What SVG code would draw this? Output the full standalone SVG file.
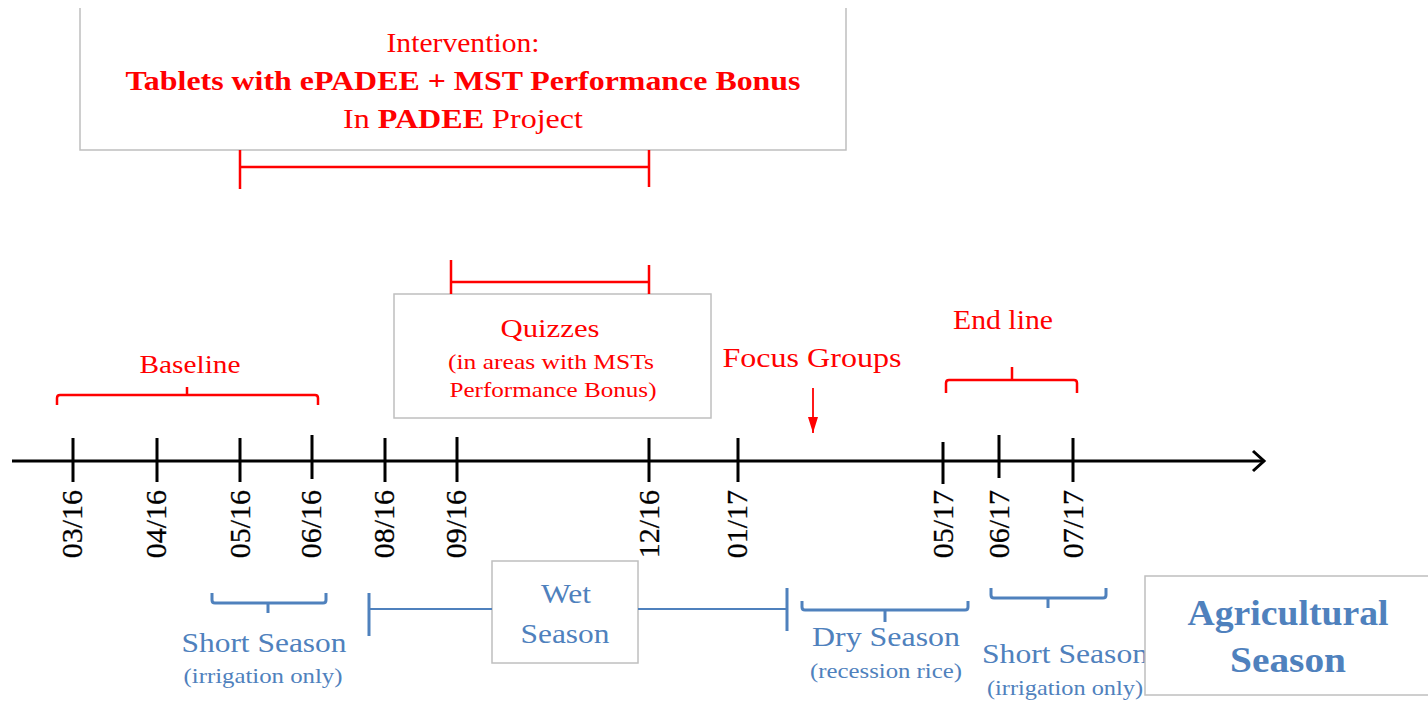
<svg xmlns="http://www.w3.org/2000/svg" width="1428" height="702" viewBox="0 0 1428 702">
<style>
text{font-family:"Liberation Serif","Times New Roman",serif}
.red{fill:#ff0000}
.blue{fill:#4f81bd}
.box{fill:#ffffff;stroke:#bfbfbf;stroke-width:1.5}
.rl{stroke:#ff0000;stroke-width:2.5;fill:none}
.bl{stroke:#4f81bd;stroke-width:3;fill:none}
.bt{stroke:#4f81bd;stroke-width:2;fill:none}
.k{stroke:#000;stroke-width:3;fill:none}
.date{font-size:30px;fill:#000;stroke:#000;stroke-width:0.3}
</style>
<defs>
<marker id="redHead" viewBox="0 0 16 10" refX="16" refY="5" markerWidth="16" markerHeight="10" orient="auto" markerUnits="userSpaceOnUse">
<path d="M0,0 L16,5 L0,10 z" fill="#ff0000"/>
</marker>
</defs>

<g id="intervention">
<path class="box" d="M80,8 V150 H846 V8"/>
<text class="red" x="463" y="52" font-size="28" text-anchor="middle" textLength="153" lengthAdjust="spacingAndGlyphs">Intervention:</text>
<text class="red" x="463" y="90" font-size="27" font-weight="bold" text-anchor="middle" textLength="675" lengthAdjust="spacingAndGlyphs">Tablets with ePADEE + MST Performance Bonus</text>
<text class="red" x="463" y="128" font-size="28" text-anchor="middle" textLength="240" lengthAdjust="spacingAndGlyphs">In <tspan font-weight="bold">PADEE</tspan> Project</text>
</g>

<g id="quizzes">
<rect class="box" x="394" y="294" width="317" height="124"/>
<text class="red" x="550" y="337" font-size="25" text-anchor="middle" textLength="99" lengthAdjust="spacingAndGlyphs">Quizzes</text>
<text class="red" x="551" y="369" font-size="21" text-anchor="middle" textLength="206" lengthAdjust="spacingAndGlyphs">(in areas with MSTs</text>
<text class="red" x="553" y="397" font-size="21" text-anchor="middle" textLength="207" lengthAdjust="spacingAndGlyphs">Performance Bonus)</text>
</g>

<g id="baseline">
<text class="red" x="190" y="373" font-size="26" text-anchor="middle" textLength="101" lengthAdjust="spacingAndGlyphs">Baseline</text>
</g>

<g id="focus-groups">
<text class="red" x="812" y="367" font-size="28" text-anchor="middle" textLength="179" lengthAdjust="spacingAndGlyphs">Focus Groups</text>
</g>

<g id="endline">
<text class="red" x="1003" y="329" font-size="28" text-anchor="middle" textLength="100" lengthAdjust="spacingAndGlyphs">End line</text>
</g>

<g id="wet-season">
<rect class="box" x="492" y="561" width="146" height="102"/>
<text class="blue" x="566" y="603" font-size="27" text-anchor="middle" textLength="50" lengthAdjust="spacingAndGlyphs">Wet</text>
<text class="blue" x="565" y="643" font-size="27" text-anchor="middle" textLength="89" lengthAdjust="spacingAndGlyphs">Season</text>
</g>

<g id="short-season-1">
<text class="blue" x="264" y="652" font-size="27" text-anchor="middle" textLength="165" lengthAdjust="spacingAndGlyphs">Short Season</text>
<text class="blue" x="263" y="683" font-size="21" text-anchor="middle" textLength="159" lengthAdjust="spacingAndGlyphs">(irrigation  only)</text>
</g>

<g id="dry-season">
<text class="blue" x="886" y="646" font-size="27" text-anchor="middle" textLength="148" lengthAdjust="spacingAndGlyphs">Dry  Season</text>
<text class="blue" x="886" y="678" font-size="21" text-anchor="middle" textLength="152" lengthAdjust="spacingAndGlyphs">(recession rice)</text>
</g>

<g id="short-season-2">
<text class="blue" x="1065" y="663" font-size="27" text-anchor="middle" textLength="166" lengthAdjust="spacingAndGlyphs">Short Season</text>
<text class="blue" x="1065" y="695" font-size="21" text-anchor="middle" textLength="156" lengthAdjust="spacingAndGlyphs">(irrigation  only)</text>
</g>

<g id="agricultural-season">
<rect class="box" x="1145" y="576" width="290" height="119"/>
<text class="blue" x="1288" y="625" font-size="36" font-weight="bold" text-anchor="middle" textLength="201" lengthAdjust="spacingAndGlyphs">Agricultural</text>
<text class="blue" x="1288" y="672" font-size="36" font-weight="bold" text-anchor="middle" textLength="116" lengthAdjust="spacingAndGlyphs">Season</text>
</g>

<g id="dates">
<text class="date" text-anchor="end" transform="translate(82,490) rotate(-90)">03/16</text>
<text class="date" text-anchor="end" transform="translate(166,490) rotate(-90)">04/16</text>
<text class="date" text-anchor="end" transform="translate(250,490) rotate(-90)">05/16</text>
<text class="date" text-anchor="end" transform="translate(321,490) rotate(-90)">06/16</text>
<text class="date" text-anchor="end" transform="translate(394,490) rotate(-90)">08/16</text>
<text class="date" text-anchor="end" transform="translate(466,490) rotate(-90)">09/16</text>
<text class="date" text-anchor="end" transform="translate(659,490) rotate(-90)">12/16</text>
<text class="date" text-anchor="end" transform="translate(747,490) rotate(-90)">01/17</text>
<text class="date" text-anchor="end" transform="translate(953,490) rotate(-90)">05/17</text>
<text class="date" text-anchor="end" transform="translate(1009,490) rotate(-90)">06/17</text>
<text class="date" text-anchor="end" transform="translate(1083,490) rotate(-90)">07/17</text>
</g>

<g id="connectors">
<path class="k" d="M12,461 H1264"/>
<path class="k" d="M1253,451 L1264,461 L1253,471" stroke-width="2.5"/>
<path class="k" d="M73,438 V482 M157,438 V482 M240,438 V482 M312,435 V479 M385,438 V482 M457,437 V482 M649,438 V482 M738,438 V482 M943,442 V484 M999,435 V478 M1073,438 V482"/>
<path class="rl" d="M240,150 V189 M649,150 V187 M240,167 H649"/>
<path class="rl" d="M451,260 V294 M649,265 V294 M451,282 H649" stroke-width="2"/>
<path class="rl" d="M57,405 V398 Q57,395 60,395 H315 Q318,395 318,398 V405 M187,395 V387"/>
<path class="rl" d="M946,393 V383 Q946,380 949,380 H1074 Q1077,380 1077,383 V393 M1012,380 V367"/>
<path d="M813,388 V433" stroke="#ff0000" stroke-width="1.8" marker-end="url(#redHead)" fill="none"/>
<path class="bl" d="M212,593 V600 Q212,603 215,603 H323 Q326,603 326,600 V593 M268,603 V613"/>
<path class="bl" d="M369,593 V636 M787,588 V631"/>
<path class="bt" d="M369,609 H492 M638,609 H787"/>
<path class="bl" d="M802,601 V607 Q802,610 805,610 H965 Q968,610 968,607 V601 M885,610 V622"/>
<path class="bl" d="M991,588 V595 Q991,598 994,598 H1103 Q1106,598 1106,595 V588 M1048,598 V608"/>
</g>
</svg>
